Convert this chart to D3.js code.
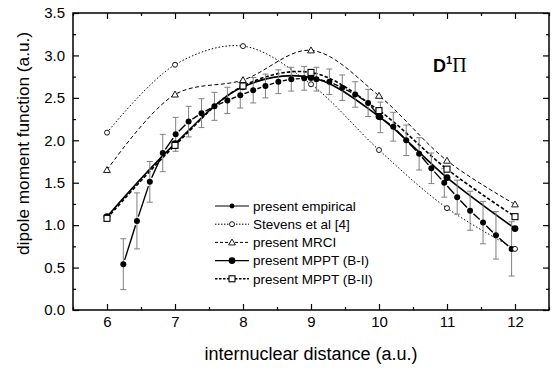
<!DOCTYPE html>
<html>
<head>
<meta charset="utf-8">
<script src="https://cdn.jsdelivr.net/npm/d3@7"></script>
<style>
  body { margin: 0; background: #fff; }
  svg { display: block; }
</style>
</head>
<body>
<script>
// values
const gridX = [6, 7, 8, 9, 10, 11, 12];
const stevens = [2.09, 2.89, 3.11, 2.66, 1.885, 1.20, 0.72];
const mrci = [1.65, 2.54, 2.71, 3.06, 2.525, 1.76, 1.245];
const mpptB1 = [1.10, 1.96, 2.63, 2.74, 2.28, 1.56, 0.96];
const mpptB2 = [1.08, 1.94, 2.64, 2.80, 2.35, 1.66, 1.10];

const empX = [6.24, 6.44, 6.63, 6.82, 7.01, 7.20, 7.39, 7.58, 7.77, 7.96, 8.15, 8.33, 8.52, 8.71, 8.90, 9.08,
  9.27, 9.46, 9.65, 9.84, 10.02, 10.21, 10.40, 10.59, 10.77, 10.96, 11.15, 11.34, 11.53, 11.72, 11.95];
const empY = [0.54, 1.05, 1.51, 1.85, 2.07, 2.22, 2.32, 2.40, 2.47, 2.53, 2.59, 2.64, 2.69, 2.72, 2.73, 2.72,
  2.69, 2.62, 2.54, 2.44, 2.27, 2.16, 2.00, 1.84, 1.67, 1.50, 1.33, 1.17, 1.03, 0.88, 0.72];
const empErr = [0.30, 0.33, 0.24, 0.22, 0.20, 0.18, 0.17, 0.165, 0.155, 0.15, 0.15, 0.14, 0.14, 0.14, 0.14, 0.14,
  0.15, 0.15, 0.15, 0.16, 0.18, 0.17, 0.18, 0.19, 0.18, 0.17, 0.20, 0.23, 0.25, 0.28, 0.32];

const xTicks = [6, 7, 8, 9, 10, 11, 12];
const yTicks = [0, 0.5, 1, 1.5, 2, 2.5, 3, 3.5];
const legendLabels = ["present empirical", "Stevens et al [4]", "present MRCI", "present MPPT (B-I)", "present MPPT (B-II)"];

const width = 554, height = 370;
const pLeft = 73, pRight = 549, pTop = 13, pBottom = 310;

const x = d3.scaleLinear().domain([5.5, 12.5]).range([pLeft, pRight]);
const y = d3.scaleLinear().domain([0, 3.5]).range([pBottom, pTop]);

const svg = d3.select("body").append("svg")
  .attr("width", width).attr("height", height)
  .style("font-family", "Arial, 'Liberation Sans', sans-serif");

// axes (ticks point inwards on all four sides)
const minorX = d3.range(5.5, 12.51, 0.5).filter(v => !xTicks.includes(v));
const minorY = d3.range(0.25, 3.5, 0.5);

function axisStyle(g) {
  g.select(".domain").remove();
  g.selectAll("line").attr("stroke", "#000").attr("stroke-width", 1.2);
  g.selectAll("text").attr("fill", "#000").style("font-size", "15px");
}

svg.append("g").attr("transform", `translate(0,${pBottom})`)
  .call(d3.axisBottom(x).tickValues(xTicks).tickSize(-6).tickPadding(6).tickFormat(d3.format("d")))
  .call(axisStyle);
svg.append("g").attr("transform", `translate(0,${pBottom})`)
  .call(d3.axisBottom(x).tickValues(minorX).tickSize(-3).tickFormat(""))
  .call(axisStyle);
svg.append("g").attr("transform", `translate(0,${pTop})`)
  .call(d3.axisTop(x).tickValues(xTicks).tickSize(-6).tickFormat(""))
  .call(axisStyle);
svg.append("g").attr("transform", `translate(0,${pTop})`)
  .call(d3.axisTop(x).tickValues(minorX).tickSize(-3).tickFormat(""))
  .call(axisStyle);

svg.append("g").attr("transform", `translate(${pLeft},0)`)
  .call(d3.axisLeft(y).tickValues(yTicks).tickSize(-6).tickPadding(8).tickFormat(d3.format(".1f")))
  .call(axisStyle);
svg.append("g").attr("transform", `translate(${pLeft},0)`)
  .call(d3.axisLeft(y).tickValues(minorY).tickSize(-3).tickFormat(""))
  .call(axisStyle);
svg.append("g").attr("transform", `translate(${pRight},0)`)
  .call(d3.axisRight(y).tickValues(yTicks).tickSize(-6).tickFormat(""))
  .call(axisStyle);
svg.append("g").attr("transform", `translate(${pRight},0)`)
  .call(d3.axisRight(y).tickValues(minorY).tickSize(-3).tickFormat(""))
  .call(axisStyle);

svg.append("rect")
  .attr("x", pLeft).attr("y", pTop)
  .attr("width", pRight - pLeft).attr("height", pBottom - pTop)
  .attr("fill", "none").attr("stroke", "#000").attr("stroke-width", 1.5);

// axis titles
svg.append("text")
  .attr("x", (pLeft + pRight) / 2).attr("y", 360)
  .attr("text-anchor", "middle").style("font-size", "18px")
  .text("internuclear distance (a.u.)");
svg.append("text")
  .attr("transform", "translate(29,143.5) rotate(-90)")
  .attr("text-anchor", "middle").style("font-size", "16.5px")
  .attr("textLength", 223).attr("lengthAdjust", "spacingAndGlyphs")
  .text("dipole moment function  (a.u.)");

// state label
const lab = svg.append("text").attr("x", 433).attr("y", 72);
lab.append("tspan").style("font-weight", "bold").style("font-size", "18px").text("D");
lab.append("tspan").style("font-weight", "bold").style("font-size", "11px").attr("dy", -8).text("1");
lab.append("tspan").attr("dy", 8).style("font-family", "'Liberation Serif', serif").style("font-size", "20px").text("Π");

// model curves
const curve = d3.line().x(d => x(d[0])).y(d => y(d[1])).curve(d3.curveCatmullRom.alpha(0.5));
const zipX = ys => gridX.map((v, i) => [v, ys[i]]);

const styles = {
  stevens: { dash: "1.5,2", width: 1 },
  mrci: { dash: "4,2.5", width: 1 },
  b1: { dash: null, width: 1.6 },
  b2: { dash: "3.5,2", width: 1.6 }
};

function drawCurve(ys, st) {
  svg.append("path").datum(zipX(ys))
    .attr("d", curve).attr("fill", "none")
    .attr("stroke", "#000").attr("stroke-width", st.width)
    .attr("stroke-dasharray", st.dash);
}
drawCurve(stevens, styles.stevens);
drawCurve(mrci, styles.mrci);
drawCurve(mpptB1, styles.b1);
drawCurve(mpptB2, styles.b2);

// empirical: error bars, gapped connecting line, dots
const emp = empX.map((v, i) => ({ x: v, y: empY[i], e: empErr[i] }));
const gErr = svg.append("g").attr("stroke", "#808080").attr("stroke-width", 1);
emp.forEach(d => {
  gErr.append("line").attr("x1", x(d.x)).attr("x2", x(d.x)).attr("y1", y(d.y - d.e)).attr("y2", y(d.y + d.e));
  [d.y - d.e, d.y + d.e].forEach(v => {
    gErr.append("line").attr("x1", x(d.x) - 3).attr("x2", x(d.x) + 3).attr("y1", y(v)).attr("y2", y(v));
  });
});

const gap = 4.5;
const gLine = svg.append("g").attr("stroke", "#000").attr("stroke-width", 1.4);
d3.pairs(emp).forEach(([a, b]) => {
  const x1 = x(a.x), y1 = y(a.y), x2 = x(b.x), y2 = y(b.y);
  const len = Math.hypot(x2 - x1, y2 - y1);
  if (len <= 2 * gap) return;
  const ux = (x2 - x1) / len, uy = (y2 - y1) / len;
  gLine.append("line")
    .attr("x1", x1 + ux * gap).attr("y1", y1 + uy * gap)
    .attr("x2", x2 - ux * gap).attr("y2", y2 - uy * gap);
});

svg.append("g").selectAll("circle").data(emp).join("circle")
  .attr("cx", d => x(d.x)).attr("cy", d => y(d.y)).attr("r", 3).attr("fill", "#000");

// markers of the model curves
function marker(g, kind, cx, cy) {
  if (kind === "circleOpen") {
    g.append("circle").attr("cx", cx).attr("cy", cy).attr("r", 2.5)
      .attr("fill", "#fff").attr("stroke", "#000").attr("stroke-width", 0.9);
  } else if (kind === "triangle") {
    const s = 3.4;
    g.append("path").attr("d", `M${cx},${cy - s}L${cx + s},${cy + s * 0.75}L${cx - s},${cy + s * 0.75}Z`)
      .attr("fill", "#fff").attr("stroke", "#000").attr("stroke-width", 0.9);
  } else if (kind === "circleFilled") {
    g.append("circle").attr("cx", cx).attr("cy", cy).attr("r", 3.4).attr("fill", "#000");
  } else if (kind === "circleSmall") {
    g.append("circle").attr("cx", cx).attr("cy", cy).attr("r", 2.4).attr("fill", "#000");
  } else if (kind === "square") {
    g.append("rect").attr("x", cx - 3).attr("y", cy - 3).attr("width", 6).attr("height", 6)
      .attr("fill", "#fff").attr("stroke", "#000").attr("stroke-width", 1.1);
  }
}
const gMark = svg.append("g");
gridX.forEach((v, i) => marker(gMark, "circleFilled", x(v), y(mpptB1[i])));
gridX.forEach((v, i) => marker(gMark, "triangle", x(v), y(mrci[i])));
gridX.forEach((v, i) => marker(gMark, "square", x(v), y(mpptB2[i])));
gridX.forEach((v, i) => marker(gMark, "circleOpen", x(v), y(stevens[i])));

// legend
const legendRows = [
  { dash: null, width: 1, mark: "circleSmall" },
  { dash: "1.5,1.5", width: 1, mark: "circleOpen" },
  { dash: "3,2", width: 1, mark: "triangle" },
  { dash: null, width: 1.4, mark: "circleFilled" },
  { dash: "2.5,1.5", width: 1.4, mark: "square" }
];
const gLeg = svg.append("g");
legendLabels.forEach((t, i) => {
  const ly = 206 + i * 18.2;
  const r = legendRows[i];
  gLeg.append("line").attr("x1", 215).attr("x2", 249).attr("y1", ly).attr("y2", ly)
    .attr("stroke", "#000").attr("stroke-width", r.width).attr("stroke-dasharray", r.dash);
  marker(gLeg, r.mark, 232, ly);
  gLeg.append("text").attr("x", 253).attr("y", ly + 4.8).style("font-size", "13.5px").text(t);
});
</script>
</body>
</html>
